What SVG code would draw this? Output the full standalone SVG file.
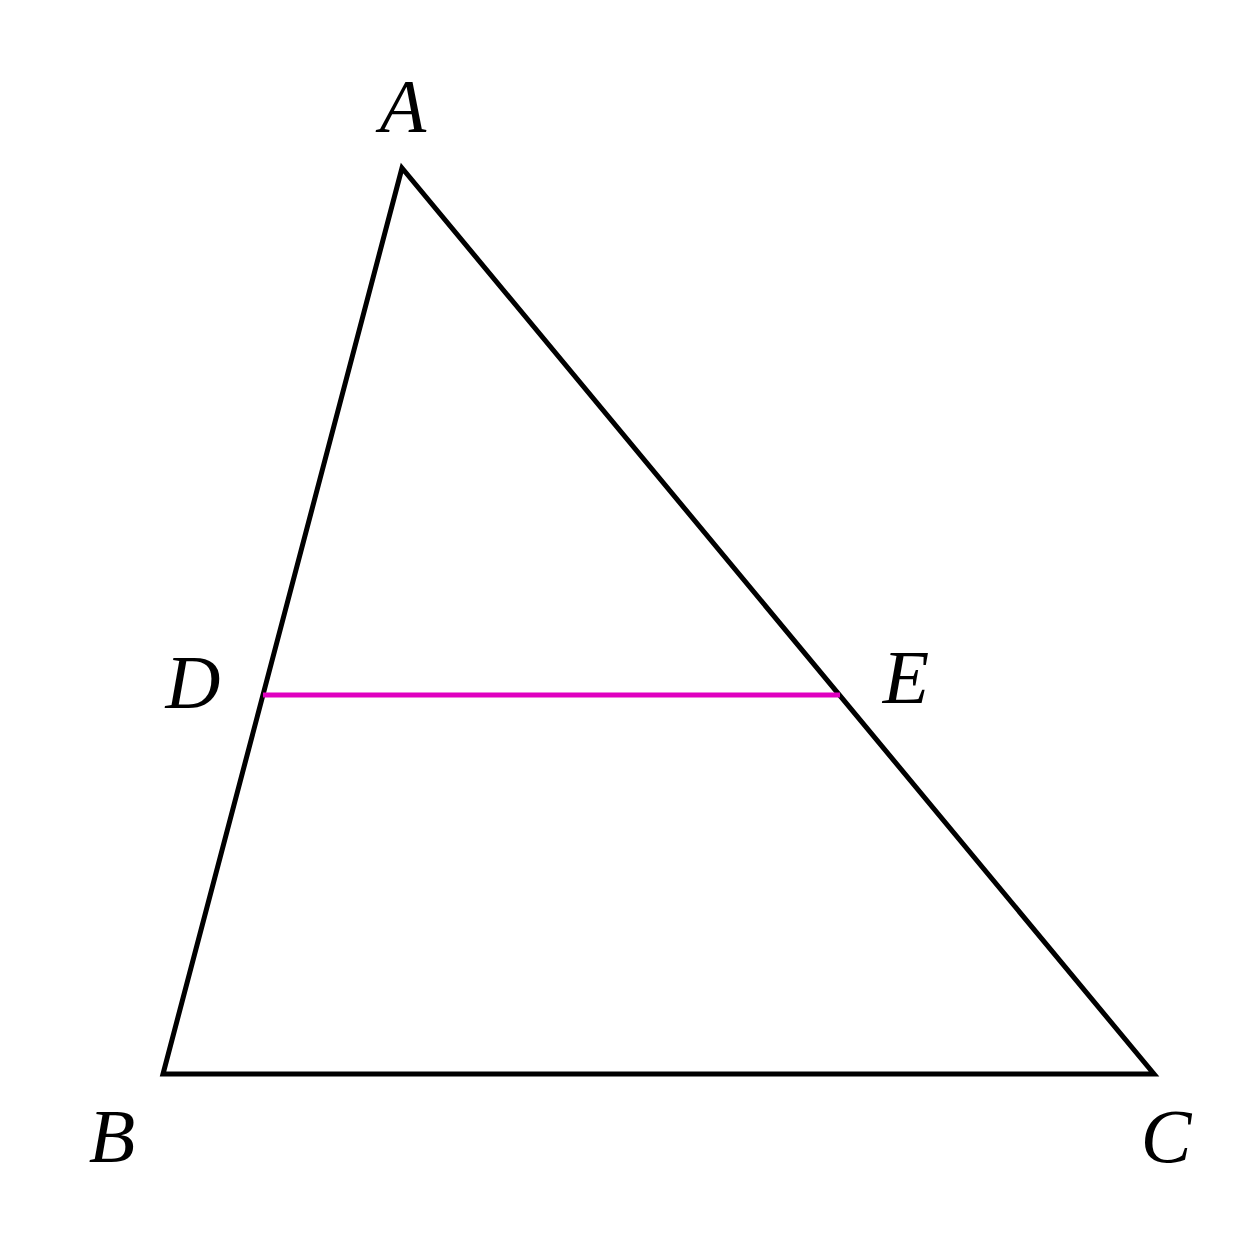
<svg xmlns="http://www.w3.org/2000/svg" width="1254" height="1254" viewBox="0 0 1254 1254">
<style>
.lbl{font-family:"Liberation Serif","DejaVu Serif",serif;font-style:italic;font-size:76px;fill:#000;text-anchor:middle}
.edge{fill:none;stroke:#000;stroke-width:5;stroke-linejoin:miter}
.seg{stroke:#e000c0;stroke-width:5;stroke-linecap:butt}
</style>
<rect width="1254" height="1254" fill="#fff"/>
<g id="connectors">
<polygon class="edge" points="402,168 163,1074 1154,1074"/>
<line class="seg" x1="263" y1="695" x2="840" y2="695"/>
</g>
<g id="A"><text class="lbl" x="403" y="132">A</text></g>
<g id="B"><text class="lbl" x="112" y="1162">B</text></g>
<g id="C"><text class="lbl" x="1166" y="1162">C</text></g>
<g id="D"><text class="lbl" x="193" y="708">D</text></g>
<g id="E"><text class="lbl" x="906" y="703">E</text></g>
</svg>
